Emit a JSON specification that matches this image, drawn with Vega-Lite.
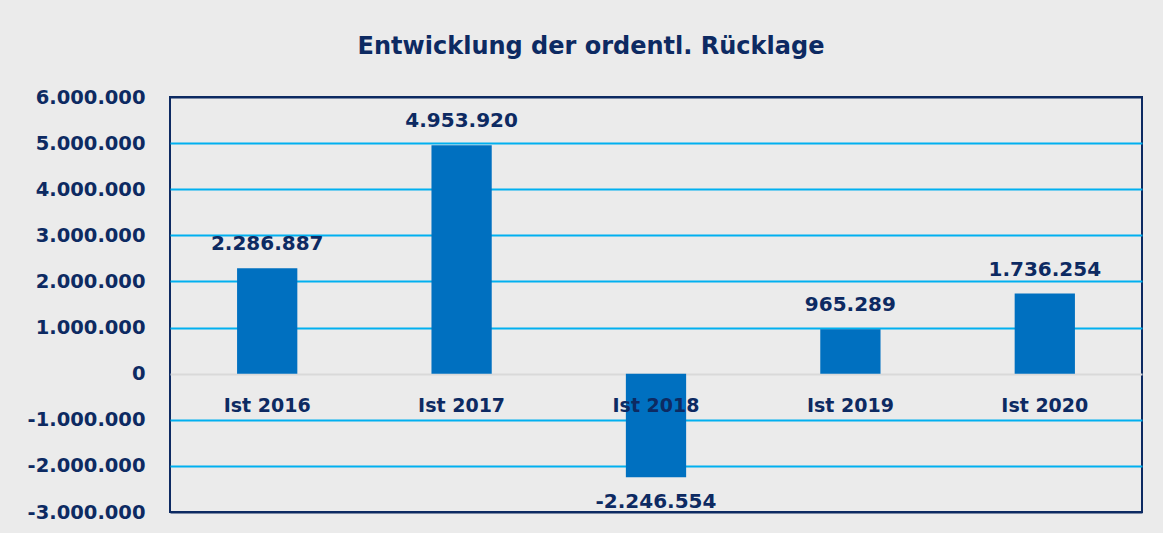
{
  "$schema": "https://vega.github.io/schema/vega-lite/v6.json",
  "width": 972,
  "height": 415,
  "autosize": {"type": "none"},
  "padding": {"left": 170, "top": 97, "right": 21, "bottom": 21},
  "background": "#ebebeb",
  "config": {
    "locale": {"number": {"decimal": ",", "thousands": ".", "grouping": [3], "currency": ["", " €"], "minus": "-"}},
    "view": {"stroke": "#0d2a62", "strokeWidth": 2},
    "font": "DejaVu Sans"
  },
  "title": {
    "text": "Entwicklung der ordentl. Rücklage",
    "font": "DejaVu Sans",
    "fontSize": 24,
    "fontWeight": "bold",
    "color": "#0d2a62",
    "anchor": "middle",
    "dx": -65,
    "offset": 28
  },
  "data": {
    "values": [
      {"jahr": "Ist 2016", "wert": 2286887},
      {"jahr": "Ist 2017", "wert": 4953920},
      {"jahr": "Ist 2018", "wert": -2246554},
      {"jahr": "Ist 2019", "wert": 965289},
      {"jahr": "Ist 2020", "wert": 1736254}
    ]
  },
  "encoding": {
    "x": {
      "field": "jahr",
      "type": "nominal",
      "sort": null,
      "scale": {"paddingInner": 0.69, "paddingOuter": 0.345},
      "axis": {
        "orient": "bottom",
        "offset": -138,
        "domain": false,
        "ticks": false,
        "labelPadding": 22,
        "labelAngle": 0,
        "labelFont": "DejaVu Sans",
        "labelFontSize": 19,
        "labelFontWeight": "bold",
        "labelColor": "#0d2a62",
        "title": null,
        "zindex": 1
      }
    },
    "y": {
      "field": "wert",
      "type": "quantitative",
      "scale": {"domain": [-3000000, 6000000], "nice": false, "zero": true},
      "axis": {
        "values": [-3000000, -2000000, -1000000, 0, 1000000, 2000000, 3000000, 4000000, 5000000, 6000000],
        "format": ",d",
        "domain": false,
        "ticks": false,
        "labelPadding": 25,
        "labelFont": "DejaVu Sans",
        "labelFontSize": 19.5,
        "labelFontWeight": "bold",
        "labelColor": "#0d2a62",
        "gridColor": {"condition": [
          {"test": "datum.value === 0", "value": "#d9d9d9"},
          {"test": "datum.value === 6000000 || datum.value === -3000000", "value": "#0d2a62"}
        ], "value": "#00b0f0"},
        "gridWidth": 2,
        "gridOpacity": 1,
        "title": null
      }
    }
  },
  "layer": [
    {"mark": {"type": "bar", "color": "#0070c0"}},
    {
      "transform": [{"filter": "datum.wert >= 0"}],
      "mark": {"type": "text", "baseline": "bottom", "dy": -14, "fontSize": 20, "fontWeight": "bold", "color": "#0d2a62", "font": "DejaVu Sans"},
      "encoding": {"text": {"field": "wert", "type": "quantitative", "format": ",d"}}
    },
    {
      "transform": [{"filter": "datum.wert < 0"}],
      "mark": {"type": "text", "baseline": "top", "dy": 15, "fontSize": 20, "fontWeight": "bold", "color": "#0d2a62", "font": "DejaVu Sans"},
      "encoding": {"text": {"field": "wert", "type": "quantitative", "format": ",d"}}
    }
  ]
}
